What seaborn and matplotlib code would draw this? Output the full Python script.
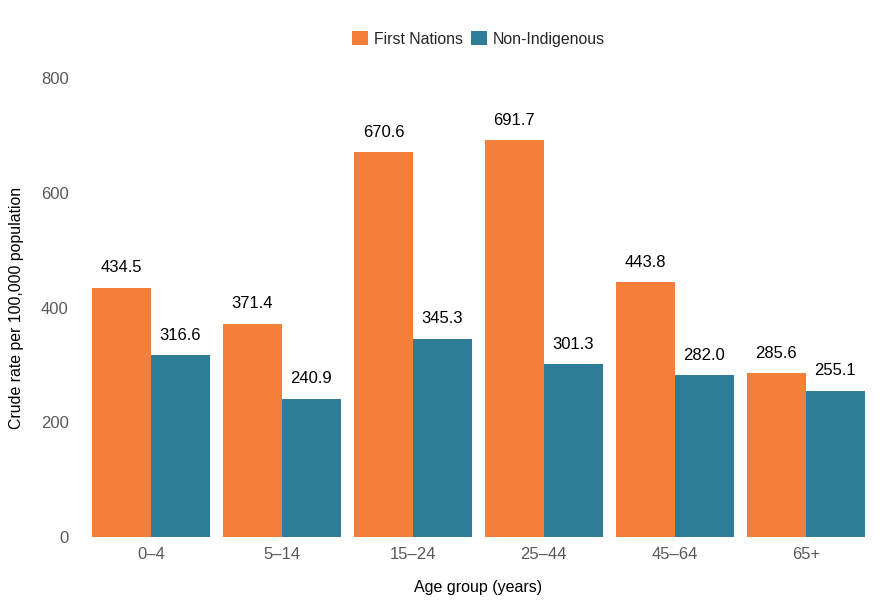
import matplotlib
matplotlib.use("Agg")
import matplotlib.pyplot as plt
import seaborn as sns
import pandas as pd

age_groups = ["0–4", "5–14", "15–24", "25–44", "45–64", "65+"]
first_nations = [434.5, 371.4, 670.6, 691.7, 443.8, 285.6]
non_indigenous = [316.6, 240.9, 345.3, 301.3, 282.0, 255.1]
series_names = ["First Nations", "Non-Indigenous"]
colors = ["#F47F3A", "#2E7D98"]

df = pd.DataFrame({
    "age": age_groups * 2,
    "rate": first_nations + non_indigenous,
    "group": [series_names[0]] * len(age_groups) + [series_names[1]] * len(age_groups),
})

sns.set_theme(style="white")
plt.rcParams["font.family"] = ["Liberation Sans", "DejaVu Sans"]

fig = plt.figure(figsize=(8.9, 6.0), dpi=100)
ax = fig.add_axes([0.096, 0.105, 0.883, 0.765])

sns.barplot(data=df, x="age", y="rate", hue="group", palette=colors,
            width=0.9, gap=0, saturation=1, ax=ax, legend=True,
            edgecolor="none", linewidth=0)

for c in ax.containers:
    ax.bar_label(c, labels=[f"{v:.1f}" for v in c.datavalues], padding=9,
                 fontsize=12, color="#000000")

ax.set_ylim(0, 800)
ax.set_xlim(-0.5, 5.5)
ax.set_yticks([0, 200, 400, 600, 800])
ax.tick_params(axis="both", labelsize=12, colors="#595959", length=0, pad=7)
ax.tick_params(axis="y", pad=12)
ax.set_xlabel("Age group (years)", fontsize=11.5, color="#000000", labelpad=13)
ax.set_ylabel("Crude rate per 100,000 population", fontsize=11.4, color="#000000")
ax.yaxis.set_label_coords(-0.078, 0.5)
for s in ax.spines.values():
    s.set_visible(False)
ax.grid(False)

h, l = ax.get_legend_handles_labels()
ax.legend(h, l, loc="upper center", bbox_to_anchor=(0.5, 1.133), ncol=2,
          frameon=False, fontsize=11.4, handlelength=1.0, handleheight=1.0,
          handletextpad=0.4, columnspacing=0.5)

fig.savefig("out.png", dpi=100)
